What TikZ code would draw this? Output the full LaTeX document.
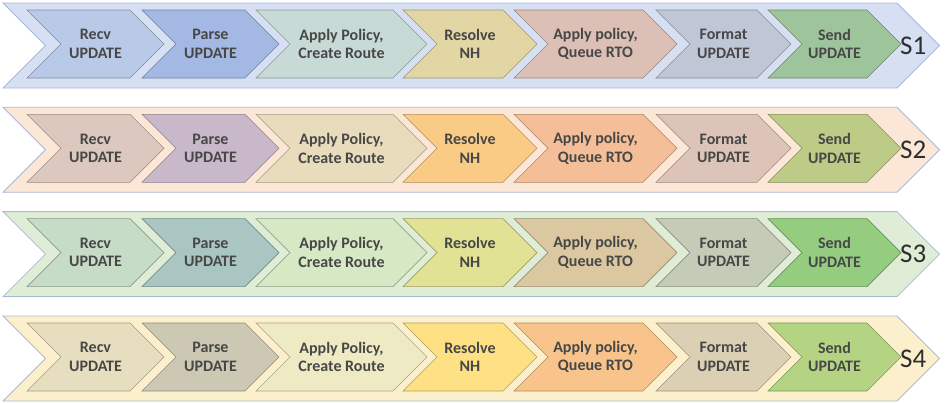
\documentclass[tikz,border=0pt]{standalone}
\usepackage{fontspec}
\setmainfont{Carlito}
\usepackage{xcolor}
\usetikzlibrary{calc}
% band colours (one per row)
\definecolor{band1}{HTML}{D6E0F2}
\definecolor{band2}{HTML}{FCE6D6}
\definecolor{band3}{HTML}{DFEDD6}
\definecolor{band4}{HTML}{FCF0CC}
\definecolor{bandline}{HTML}{A9B9D6}
\definecolor{labelgrey}{HTML}{474747}
\definecolor{sgrey}{HTML}{2E2E2E}
% stage colours, row 1
\definecolor{stage11}{HTML}{B9CAE8}
\definecolor{stage12}{HTML}{A3B8E2}
\definecolor{stage13}{HTML}{C8DAD6}
\definecolor{stage14}{HTML}{E2D6A4}
\definecolor{stage15}{HTML}{DCC0B6}
\definecolor{stage16}{HTML}{BFC6D6}
\definecolor{stage17}{HTML}{9DC49B}
% row 2
\definecolor{stage21}{HTML}{DCC8BE}
\definecolor{stage22}{HTML}{C8B8CA}
\definecolor{stage23}{HTML}{E8DCBC}
\definecolor{stage24}{HTML}{FACB84}
\definecolor{stage25}{HTML}{F4BE98}
\definecolor{stage26}{HTML}{DCC4B8}
\definecolor{stage27}{HTML}{BCCB86}
% row 3
\definecolor{stage31}{HTML}{C6DCC6}
\definecolor{stage32}{HTML}{A9C6C2}
\definecolor{stage33}{HTML}{D6E8C4}
\definecolor{stage34}{HTML}{E2E294}
\definecolor{stage35}{HTML}{DCC8A0}
\definecolor{stage36}{HTML}{C4CCB8}
\definecolor{stage37}{HTML}{94CC80}
% row 4
\definecolor{stage41}{HTML}{E6DEBE}
\definecolor{stage42}{HTML}{CCC8B4}
\definecolor{stage43}{HTML}{EEEBC4}
\definecolor{stage44}{HTML}{FDE184}
\definecolor{stage45}{HTML}{F8C48C}
\definecolor{stage46}{HTML}{DCD0B4}
\definecolor{stage47}{HTML}{B4D484}

\begin{document}
\begin{tikzpicture}[
  x=1pt, y=-1pt,
  band/.style={draw=bandline, line width=0.8pt},
  stagebox/.style={line width=0.6pt},
  stagelabel/.style={text=labelgrey, align=center,
    font=\bfseries\fontsize{16}{18.5}\selectfont},
  rowlabel/.style={text=sgrey, inner sep=0pt, anchor=west,
    font=\fontsize{27}{30}\selectfont},
]

% ===== Overall dimensions =====
% 945 x 402 (1 unit = 1 px), rows are 85 high, 104.3 apart
\useasboundingbox (0,0) rectangle (945,402);

\foreach \r/\top in {1/3, 2/107.3, 3/211.6, 4/316}{
  %% ---- outer band ----
  \filldraw[band, fill=band\r]
    (3,\top) -- (897,\top) -- (939.5,\top+42.5) -- (897,\top+85)
    -- (3,\top+85) -- (45.5,\top+42.5) -- cycle;

  %% ---- stages ----
  \foreach \s/\L/\R/\txt in {
      1/27/130/{Recv\\UPDATE},
      2/142/245/{Parse\\UPDATE},
      3/256/393/{Apply Policy,\\Create Route},
      4/403/503/{Resolve\\NH},
      5/514/643/{Apply policy,\\Queue RTO},
      6/656/757/{Format\\UPDATE},
      7/768/867/{Send\\UPDATE}}{
    \filldraw[stagebox, fill=stage\r\s, draw=stage\r\s!70!black]
      (\L,\top+7) -- (\R,\top+7) -- (\R+34,\top+41) -- (\R,\top+75)
      -- (\L,\top+75) -- (\L+34,\top+41) -- cycle;
    \node[stagelabel] (lbl\r\s) at ({(\L+\R+34)/2},\top+41) {\txt};
  }

  % row name
  \node[rowlabel] (sid\r) at (900,\top+42.5) {S\r};
}

\end{tikzpicture}
\end{document}
